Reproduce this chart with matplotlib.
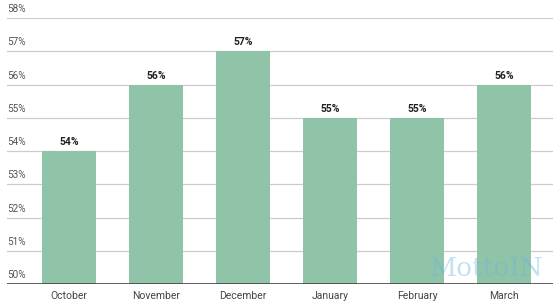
import matplotlib
matplotlib.use("Agg")
import matplotlib.pyplot as plt

months = ["October", "November", "December", "January", "February", "March"]
values = [54, 56, 57, 55, 55, 56]
yticks = [50, 51, 52, 53, 54, 55, 56, 57, 58]

plt.rcParams['font.family'] = ['Roboto', 'DejaVu Sans']

fig = plt.figure(figsize=(5.53, 3.08), dpi=100)
ax = fig.add_axes([7/553, 24/308, 546/553, 266/308])
x = list(range(len(months)))
ax.bar(x, [v - 50 for v in values], bottom=50, width=0.62, color="#8fc4a8", zorder=2)
ax.set_ylim(50, 58)
ax.set_xlim(-0.713, 5.563)
for t in yticks:
    ax.axhline(t, color="#cccccc", lw=0.9, zorder=1)
    if t != 50:
        ax.text(-0.713, t + 0.12, f"{t}%", fontsize=7.2, color="#555555", ha="left", va="bottom")
ax.text(-0.713, 50 + 0.12, "50%", fontsize=7.2, color="#555555", ha="left", va="bottom", zorder=3)
ax.axhline(50, color="#444444", lw=1.2, zorder=3)
for xi, v in zip(x, values):
    ax.text(xi, v + 0.12, f"{v}%", fontsize=7.5, fontweight="bold", color="#222222", ha="center", va="bottom")
ax.set_xticks(x)
ax.set_xticklabels(months, fontsize=7.5, color="#444444")
ax.tick_params(axis="x", length=0, pad=5)
ax.set_yticks([])
for s in ax.spines.values():
    s.set_visible(False)
fig.text(486/553, 40/308, "MottoIN", fontsize=19, color="#6ab4e0", alpha=0.4, ha="center", va="center",
         family="DejaVu Serif")
fig.savefig("out.png", dpi=100)
